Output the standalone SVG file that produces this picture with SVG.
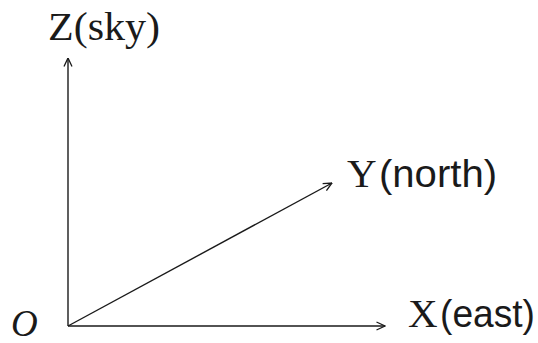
<svg xmlns="http://www.w3.org/2000/svg" width="538" height="343" viewBox="0 0 538 343">
<defs>
<style>
.ax{stroke:#1a1a1a;stroke-width:1.4;fill:none}
.serif{font-family:"Liberation Serif","Times New Roman",serif;font-size:41px;fill:#1a1a1a}
.ital{font-family:"Liberation Serif","Times New Roman",serif;font-style:italic;font-size:37px;fill:#1a1a1a}
.sans{font-family:"Liberation Sans",Arial,sans-serif;font-size:38px;fill:#1a1a1a}
</style>
<marker id="arr" viewBox="0 0 10 10" refX="9.5" refY="5" markerWidth="10" markerHeight="10" markerUnits="userSpaceOnUse" orient="auto">
<path d="M1,1 L9.5,5 L1,9" fill="none" stroke="#1a1a1a" stroke-width="1.3"/>
</marker>
</defs>
<rect width="538" height="343" fill="#fff"/>
<g id="connectors">
<line class="ax" x1="68" y1="326" x2="68" y2="58" marker-end="url(#arr)"/>
<line class="ax" x1="68" y1="326" x2="385" y2="326" marker-end="url(#arr)"/>
<line class="ax" x1="68" y1="326" x2="332" y2="183" marker-end="url(#arr)"/>
</g>
<g id="origin">
<text class="ital" x="11" y="336">O</text>
</g>
<g id="z-label">
<text class="serif" x="48" y="40" textLength="112" lengthAdjust="spacingAndGlyphs">Z(sky)</text>
</g>
<g id="y-label">
<text class="serif" x="347" y="187">Y</text>
<text class="sans" x="379" y="187" textLength="118" lengthAdjust="spacingAndGlyphs">(north)</text>
</g>
<g id="x-label">
<text class="serif" x="408" y="327">X</text>
<text class="sans" x="440" y="327" textLength="95" lengthAdjust="spacingAndGlyphs">(east)</text>
</g>
</svg>
